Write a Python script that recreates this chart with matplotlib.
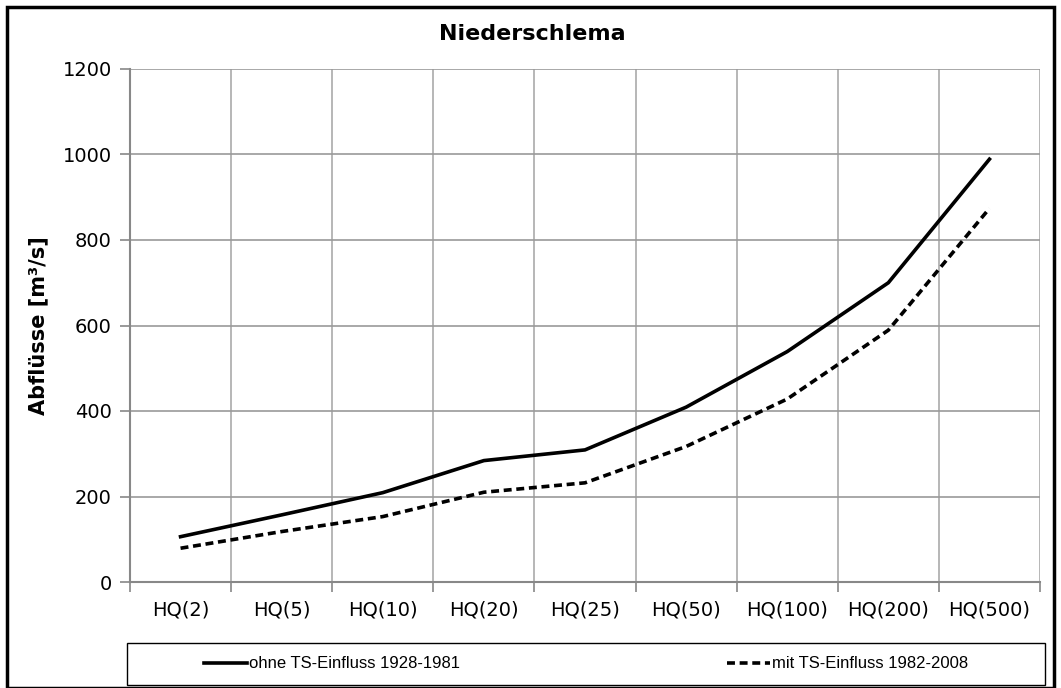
import numpy as np
import matplotlib.pyplot as plt
from matplotlib.patches import Rectangle

# Daten
kategorien = ['HQ(2)', 'HQ(5)', 'HQ(10)', 'HQ(20)', 'HQ(25)', 'HQ(50)',
              'HQ(100)', 'HQ(200)', 'HQ(500)']
ohne_ts = [106, 157, 209, 284, 309, 409, 539, 700, 989]
mit_ts = [79, 118, 153, 210, 232, 317, 428, 589, 874]
y_ticks = [0, 200, 400, 600, 800, 1000, 1200]

plt.rcParams['font.family'] = ['DejaVu Sans']

W, H = 1061, 688
fig = plt.figure(figsize=(W / 100, H / 100), dpi=100)
ax = fig.add_axes([130 / W, (H - 582) / H, 910 / W, 513 / H])

x = np.arange(len(kategorien))
ax.plot(x, ohne_ts, color='black', lw=2.6, label='ohne TS-Einfluss 1928-1981')
ax.plot(x, mit_ts, color='black', lw=2.6, ls=(0, (2.2, 1.3)),
        label='mit TS-Einfluss 1982-2008')

ax.set_xlim(-0.5, len(kategorien) - 0.5)
ax.set_ylim(0, 1200)
ax.set_yticks(y_ticks)
ax.set_xticks(x)
ax.set_xticklabels(kategorien, fontsize=14)
ax.set_xticks(np.arange(len(kategorien) + 1) - 0.5, minor=True)
ax.tick_params(axis='x', which='major', length=0, pad=13)
ax.tick_params(axis='x', which='minor', length=7, color='#888888', width=1.2)
ax.tick_params(axis='y', length=7, color='#888888', width=1.2, labelsize=14, pad=6)

ax.grid(True, axis='y', color='#999999', lw=1.2)
ax.grid(True, axis='x', which='minor', color='#aaaaaa', lw=1.2)
ax.set_axisbelow(True)
for s in ['top', 'right']:
    ax.spines[s].set_visible(False)
ax.spines['left'].set_color('#888888')
ax.spines['bottom'].set_color('#888888')
ax.spines['left'].set_linewidth(1.5)
ax.spines['bottom'].set_linewidth(1.5)

ax.set_ylabel('Abflüsse [m³/s]', fontsize=15, fontweight='bold', labelpad=10)
fig.text(532 / W, 1 - 34 / H, 'Niederschlema', ha='center', va='center',
         fontsize=16, fontweight='bold')

leg = fig.legend(loc='center', bbox_to_anchor=(127 / W, 1 - 685 / H, 918 / W, 42 / H),
                 ncol=2, frameon=False, prop={'family': 'Liberation Sans', 'size': 12},
                 handlelength=2.6, handletextpad=0.1, columnspacing=16,
                 borderaxespad=0)
fig.add_artist(Rectangle((127 / W, 1 - 685 / H), 918 / W, 42 / H,
                         transform=fig.transFigure, fill=False,
                         edgecolor='black', lw=1.0))

fig.add_artist(Rectangle((7 / W, 0), 1047 / W, 1 - 7 / H,
                         transform=fig.transFigure, fill=False,
                         edgecolor='black', lw=2.5))

fig.savefig('out.png', dpi=100)
